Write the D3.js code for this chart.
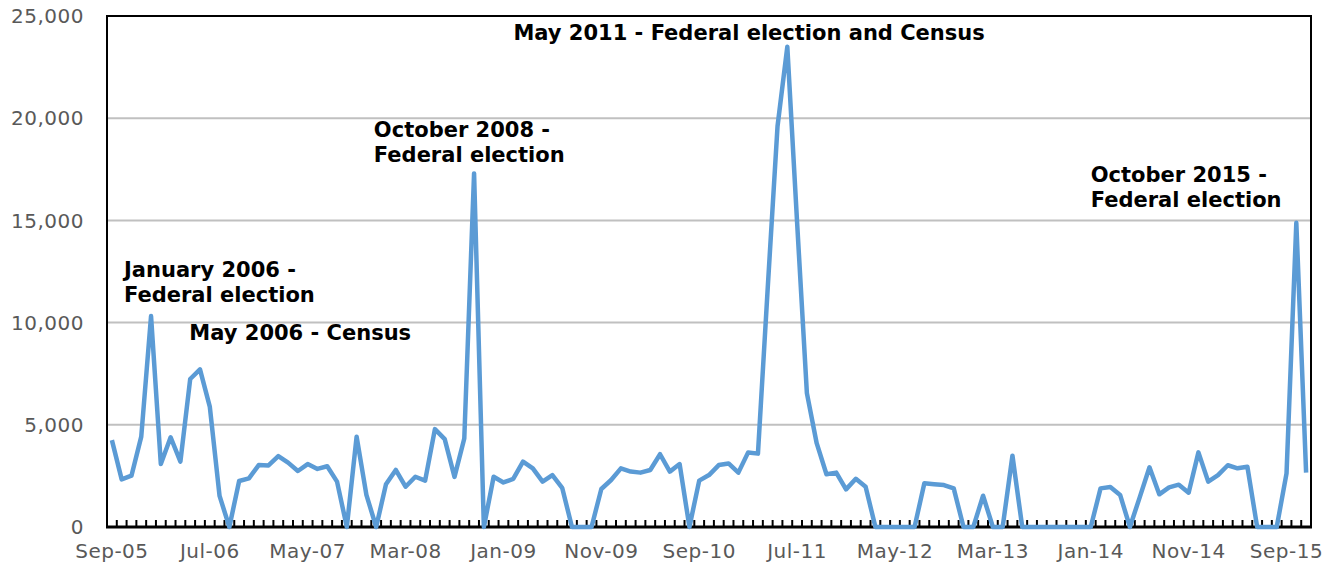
<!DOCTYPE html>
<html>
<head>
<meta charset="utf-8">
<script src="https://cdn.jsdelivr.net/npm/d3@7"></script>
<style>
  body { margin: 0; background: #fff; }
  text { font-family: Verdana, "DejaVu Sans", sans-serif; }
</style>
</head>
<body>
<div id="chart"></div>
<script>
// monthly counts, Sep-05 .. Nov-15
const values = [
  4250, 2330, 2510, 4420, 10320, 3080, 4390, 3200, 7240, 7710,
  5890, 1520, 0, 2250, 2380, 3030, 3010, 3470, 3150, 2740,
  3080, 2840, 2970, 2220, 0, 4420, 1570, 0, 2090, 2790,
  1970, 2460, 2270, 4790, 4300, 2450, 4330, 17300, 0, 2460,
  2180, 2350, 3200, 2870, 2220, 2540, 1920, 0, 0, 0,
  1860, 2300, 2870, 2710, 2660, 2790, 3560, 2710, 3080, 0,
  2270, 2540, 3030, 3110, 2660, 3650, 3590, 11700, 19600, 23500,
  14900, 6550, 4100, 2580, 2660, 1840, 2360, 1970, 0, 0,
  0, 0, 0, 2140, 2090, 2050, 1890, 0, 0, 1530,
  0, 0, 3490, 0, 0, 0, 0, 0, 0, 0,
  0, 1890, 1960, 1570, 0, 1450, 2920, 1600, 1940, 2070,
  1680, 3650, 2220, 2540, 3020, 2870, 2950, 0, 0, 0,
  2620, 14880, 2660
]
const months = d3.timeMonth.range(new Date(2005, 8, 1), new Date(2015, 11, 1)).map(d3.timeFormat('%b-%y'))
const xTickLabels = ['Sep-05', 'Jul-06', 'May-07', 'Mar-08', 'Jan-09', 'Nov-09', 'Sep-10',
  'Jul-11', 'May-12', 'Mar-13', 'Jan-14', 'Nov-14', 'Sep-15']
const yTicks = [0, 5000, 10000, 15000, 20000, 25000]
const notes = [
  { lines: ['January 2006 -', 'Federal election'], month: 'Sep-05', dx: 17, value: 12220 },
  { lines: ['May 2006 - Census'], month: 'Dec-05', dx: 53, value: 9150 },
  { lines: ['October 2008 -', 'Federal election'], month: 'Feb-08', dx: -17, value: 19080 },
  { lines: ['May 2011 - Federal election and Census'], month: 'Nov-09', dx: -83, value: 23830 },
  { lines: ['October 2015 -', 'Federal election'], month: 'Nov-14', dx: -93, value: 16900 }
]

const width = 1341
const height = 572
const plotLeft = 107, plotRight = 1311, plotTop = 16, plotBottom = 527

const svg = d3.select('#chart').append('svg').attr('width', width).attr('height', height)

const x = d3.scaleBand().domain(months).range([plotLeft, plotRight])
const y = d3.scaleLinear().domain([0, 25000]).range([plotBottom, plotTop])
const cx = (m) => x(m) + x.bandwidth() / 2

// gridlines
svg.append('g')
  .selectAll('line')
  .data(yTicks.filter((t) => t > 0 && t < 25000))
  .enter()
  .append('line')
  .attr('x1', plotLeft).attr('x2', plotRight)
  .attr('y1', (d) => y(d)).attr('y2', (d) => y(d))
  .attr('stroke', '#c0c0c0').attr('stroke-width', 2)

// frame
svg.append('path')
  .attr('d', `M${plotLeft},${plotBottom}V${plotTop}H${plotRight}V${plotBottom}`)
  .attr('fill', 'none').attr('stroke', '#000').attr('stroke-width', 2)

// y labels
svg.append('g')
  .selectAll('text')
  .data(yTicks)
  .enter()
  .append('text')
  .attr('x', 84)
  .attr('y', (d) => y(d))
  .attr('dy', '0.36em')
  .attr('text-anchor', 'end')
  .attr('font-size', 20)
  .attr('letter-spacing', 0.5)
  .attr('fill', '#595959')
  .text(d3.format(','))

// x axis with ticks between categories
const bounds = months.map((m) => x(m)).concat([plotRight])
svg.append('g')
  .selectAll('line')
  .data(bounds)
  .enter()
  .append('line')
  .attr('x1', (d) => d).attr('x2', (d) => d)
  .attr('y1', plotBottom).attr('y2', plotBottom - 7)
  .attr('stroke', '#000').attr('stroke-width', 2)
svg.append('line')
  .attr('x1', plotLeft - 1).attr('x2', plotRight + 1)
  .attr('y1', plotBottom).attr('y2', plotBottom)
  .attr('stroke', '#000').attr('stroke-width', 3)

svg.append('g')
  .selectAll('text')
  .data(xTickLabels)
  .enter()
  .append('text')
  .attr('x', (d) => cx(d))
  .attr('y', 558)
  .attr('text-anchor', 'middle')
  .attr('font-size', 20)
  .attr('letter-spacing', 0.5)
  .attr('fill', '#595959')
  .text((d) => d)

// line, drawn over the axis
const line = d3.line().x((d, i) => cx(months[i])).y((d) => y(d))
svg.append('path')
  .datum(values)
  .attr('d', line)
  .attr('fill', 'none')
  .attr('stroke', '#5b9bd5')
  .attr('stroke-width', 4.5)
  .attr('stroke-linejoin', 'round')

// annotations
notes.forEach((n) => {
  const t = svg.append('text')
    .attr('x', x(n.month) + n.dx)
    .attr('y', y(n.value))
    .attr('font-size', 21)
    .attr('font-weight', 'bold')
    .attr('fill', '#000')
  n.lines.forEach((l, i) => {
    t.append('tspan').attr('x', x(n.month) + n.dx).attr('dy', i ? 25 : 0).text(l)
  })
})
</script>
</body>
</html>
